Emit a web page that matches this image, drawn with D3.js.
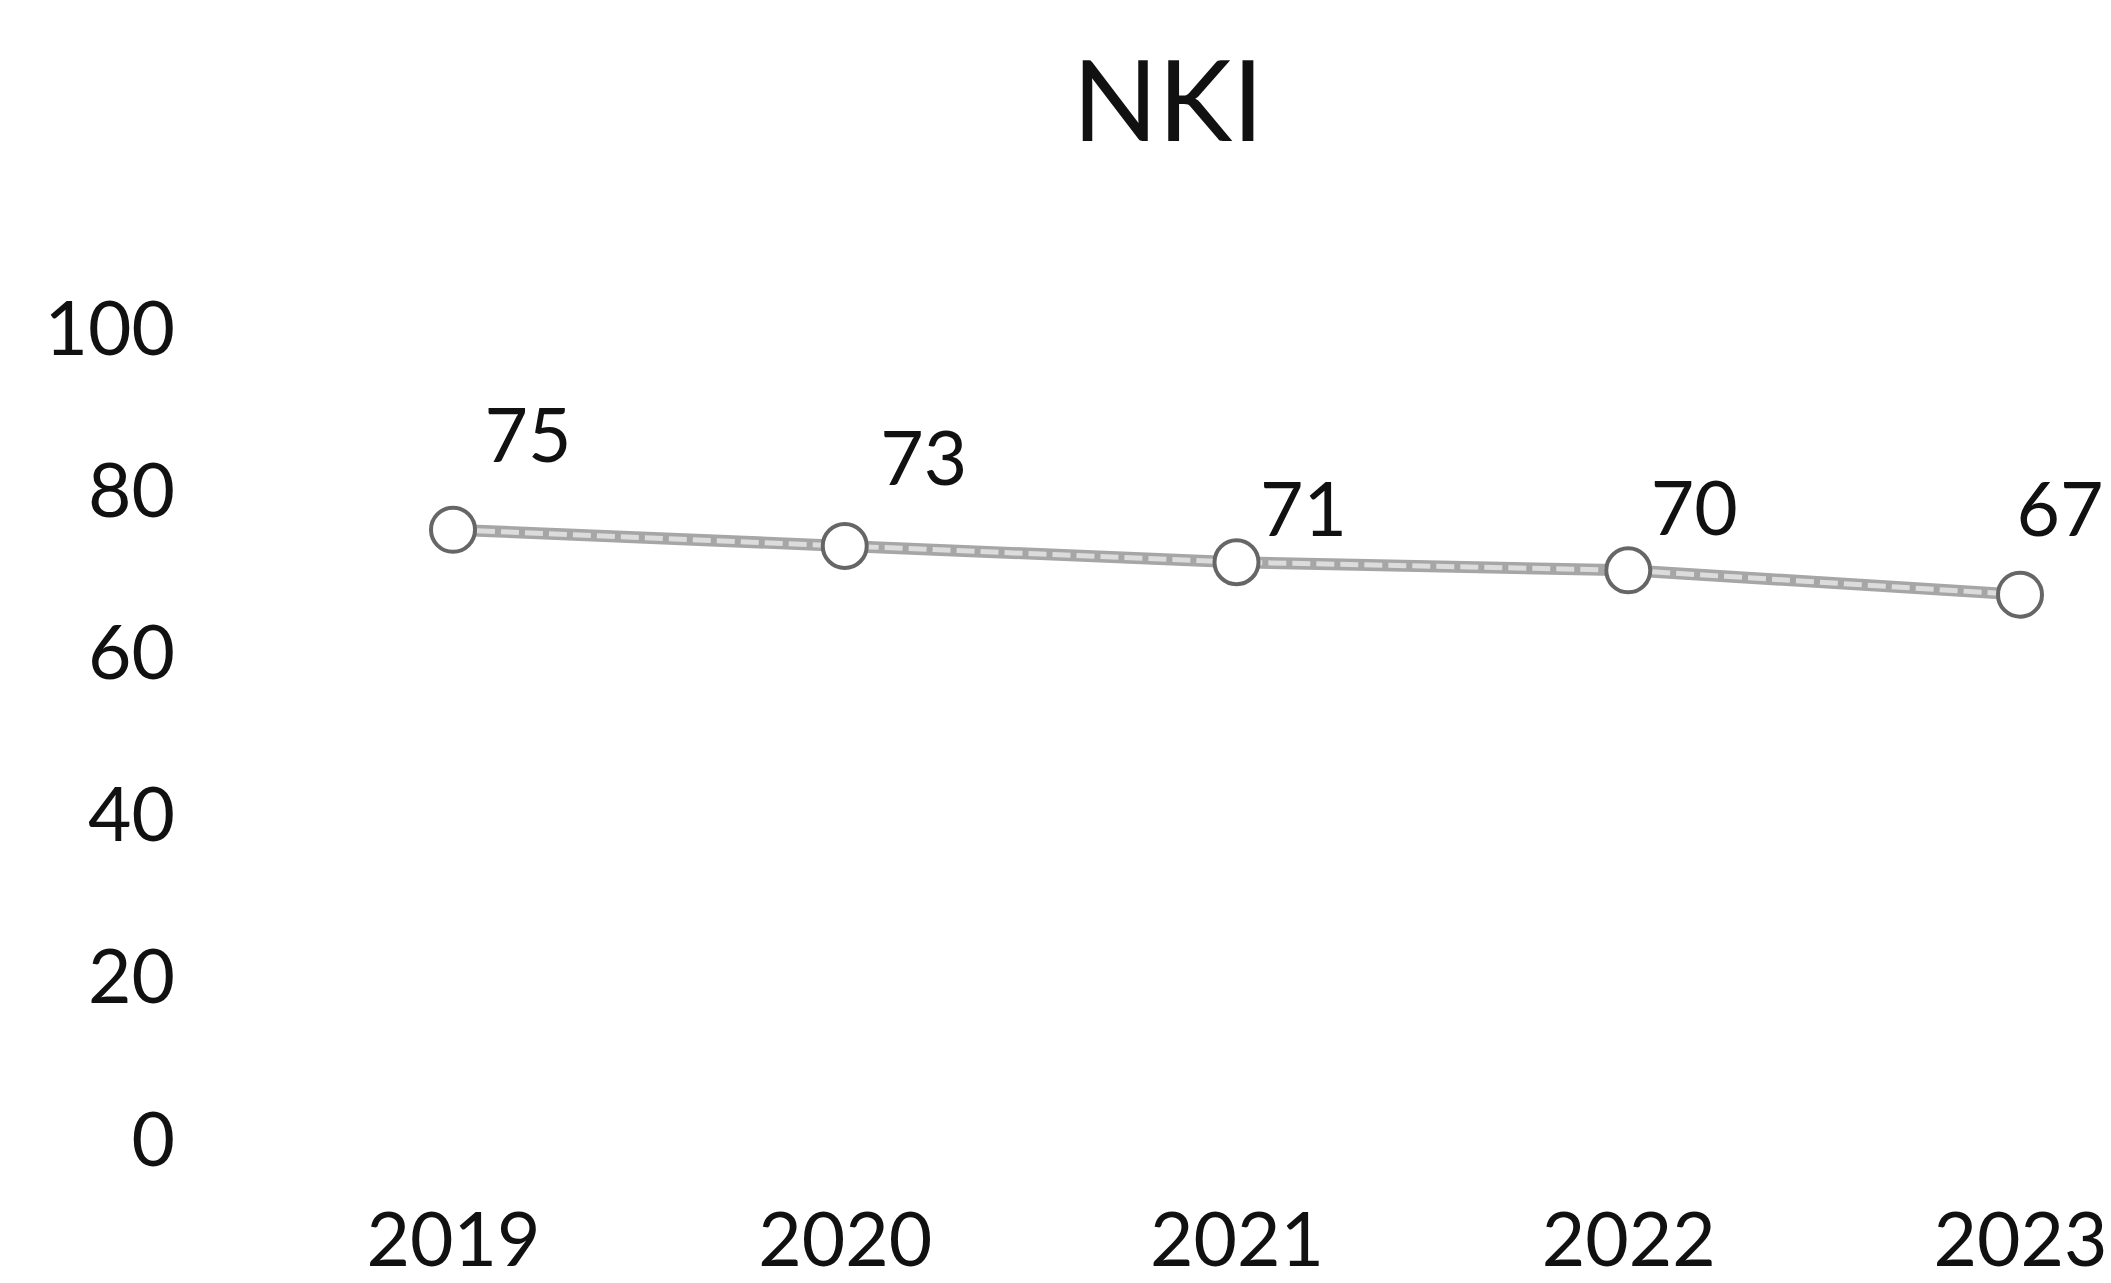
<!DOCTYPE html>
<html>
<head>
<meta charset="utf-8">
<script src="https://cdn.jsdelivr.net/npm/d3@7"></script>
<style>
  html, body { margin: 0; padding: 0; background: #fff; }
  svg { display: block; }
  text { font-family: Lato, "Open Sans", sans-serif; fill: #111; }
</style>
</head>
<body>
<script>
// ---- data ----
const title = "NKI";
const years = ["2019", "2020", "2021", "2022", "2023"];
const values = [75, 73, 71, 70, 67];
const yTicks = [0, 20, 40, 60, 80, 100];
// label offsets (px) of each value label relative to its point
const labelDx = [75, 79, 67, 66, 40];
const labelDy = [-95, -88, -53, -62, -86];

const W = 2111, H = 1283;
const svg = d3.select("body").append("svg").attr("width", W).attr("height", H);

const x = d3.scalePoint().domain(years).range([453, 2020]);
const y = d3.scaleLinear().domain([0, 100]).range([1138, 327]);

// title
svg.append("text")
  .attr("x", 1168).attr("y", 141)
  .attr("text-anchor", "middle")
  .style("font-size", "112px")
  .text(title);

// y axis (labels only)
const yAxis = d3.axisLeft(y).tickValues(yTicks).tickSize(0).tickPadding(0);
const gy = svg.append("g").attr("transform", "translate(175,0)").call(yAxis);
gy.select(".domain").remove();
gy.selectAll("text")
  .style("font-family", "Lato, 'Open Sans', sans-serif")
  .style("font-size", "75px")
  .attr("fill", "#111")
  .attr("dy", "0.36em");

// x axis (labels only)
const xAxis = d3.axisBottom(x).tickSize(0).tickPadding(0);
const gx = svg.append("g").attr("transform", "translate(0,1212)").call(xAxis);
gx.select(".domain").remove();
gx.selectAll("text")
  .style("font-family", "Lato, 'Open Sans', sans-serif")
  .style("font-size", "75px")
  .attr("fill", "#111")
  .attr("dy", "0.72em");

const pts = years.map((yr, i) => ({ yr, v: values[i], i }));

// line
const line = d3.line().x(d => x(d.yr)).y(d => y(d.v));
svg.append("path")
  .datum(pts)
  .attr("d", line)
  .attr("fill", "none")
  .attr("stroke", "#a6a6a6")
  .attr("stroke-width", 12);
svg.append("path")
  .datum(pts)
  .attr("d", line)
  .attr("fill", "none")
  .attr("stroke", "#dcdcdc")
  .attr("stroke-width", 5)
  .attr("stroke-dasharray", "18 6");

// markers
svg.selectAll("circle.m")
  .data(pts)
  .enter().append("circle")
  .attr("class", "m")
  .attr("cx", d => x(d.yr))
  .attr("cy", d => y(d.v))
  .attr("r", 22)
  .attr("fill", "#fff")
  .attr("stroke", "#666")
  .attr("stroke-width", 4);

// value labels
svg.selectAll("text.lbl")
  .data(pts)
  .enter().append("text")
  .attr("class", "lbl")
  .attr("x", d => x(d.yr) + labelDx[d.i])
  .attr("y", d => y(d.v) + labelDy[d.i])
  .attr("text-anchor", "middle")
  .attr("dy", "0.36em")
  .style("font-size", "75px")
  .text(d => d.v);
</script>
</body>
</html>
